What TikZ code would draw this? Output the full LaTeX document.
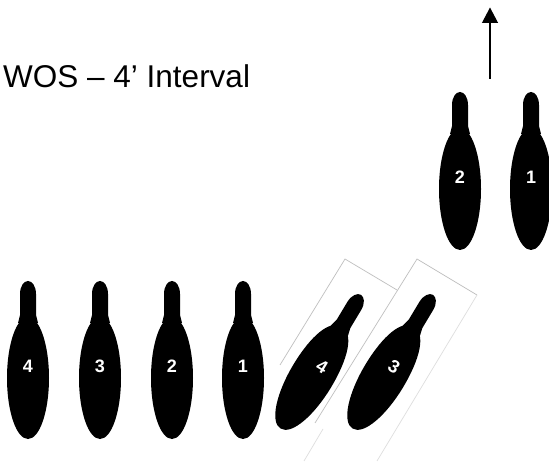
\documentclass[tikz,border=0pt]{standalone}
\usepackage{fontspec}
\setmainfont{Liberation Sans}
\usetikzlibrary{arrows.meta}
\newcommand{\pinneck}{%
    \path[pinshape] (-10,-55) -- (-8,-63) -- (-8,-84)
      .. controls (-8,-92) and (-4,-97) .. (0,-97)
      .. controls (4,-97) and (8,-92) .. (8,-84)
      -- (8,-63) -- (10,-55) -- cycle;
}
\tikzset{
  pinshape/.style={fill=black,draw=none},
  pinnum/.style={text=white,font=\bfseries\fontsize{18}{18}\selectfont,inner sep=0pt,transform shape},
  frameline/.style={draw=black!25,line width=0.7pt},
  faintline/.style={draw=black!13,line width=0.7pt},
  pin/.pic={\path[pinshape] (0,0) ellipse [x radius=21,y radius=61];
    \pinneck \node[pinnum] (-num) at (0,-12) {\tikzpictext};},
  leanpin/.pic={\path[pinshape] (0,-60)
      .. controls (14,-60) and (22,-36) .. (22,-2)
      .. controls (22,30) and (13,59) .. (0,59)
      .. controls (-13,59) and (-22,30) .. (-22,-2)
      .. controls (-22,-36) and (-14,-60) .. (0,-60) -- cycle;
    \pinneck \node[pinnum] (-num) at (3.8,-15) {\tikzpictext};}
}
\begin{document}
\begin{tikzpicture}[x=1pt,y=-1pt]
\useasboundingbox (0,0) rectangle (549,462);
\clip (0,0) rectangle (549,462);
\fill[white] (0,0) rectangle (549,462);
% frames
\coordinate (f4a) at (345,259);
\coordinate (f4b) at (397,290);
\coordinate (f4c) at (280,365);
\coordinate (f4d) at (323,429);
\coordinate (f4e) at (304,461);
\coordinate (f3a) at (417,259);
\coordinate (f3b) at (477,295);
\coordinate (f3c) at (315,423);
\coordinate (f3d) at (377,461);
\draw[frameline] (f4c) -- (f4a) -- (f4b);
\draw[frameline] (f3c) -- (f3a) -- (f3b);
\draw[faintline] (f3b) -- (f3d);
\draw[faintline] (f4d) -- (f4e);
% pins
\pic[pic text=2] (tb) at (460,189) {pin};
\pic[pic text=1] (ta) at (531,189) {pin};
\pic[pic text=4] (b4) at (28,378) {pin};
\pic[pic text=3] (b3) at (100,378) {pin};
\pic[pic text=2] (b2) at (172,378) {pin};
\pic[pic text=1] (b1) at (243,378) {pin};
\pic[pic text=4,rotate=-31] (r4) at (311,378) {leanpin};
\pic[pic text=3,rotate=-31] (r3) at (383,378) {leanpin};
% arrow
\coordinate (arrowfrom) at (490,79);
\coordinate (arrowto) at (490,7.5);
\draw[line width=1.1pt,-{Triangle[length=15.5pt,width=16pt]}] (arrowfrom) -- (arrowto);
% title
\node[anchor=base west,inner sep=0pt,font=\fontsize{31.5}{31.5}\selectfont] (title) at (3,87.5) {WOS – 4’ Interval};
\end{tikzpicture}
\end{document}
